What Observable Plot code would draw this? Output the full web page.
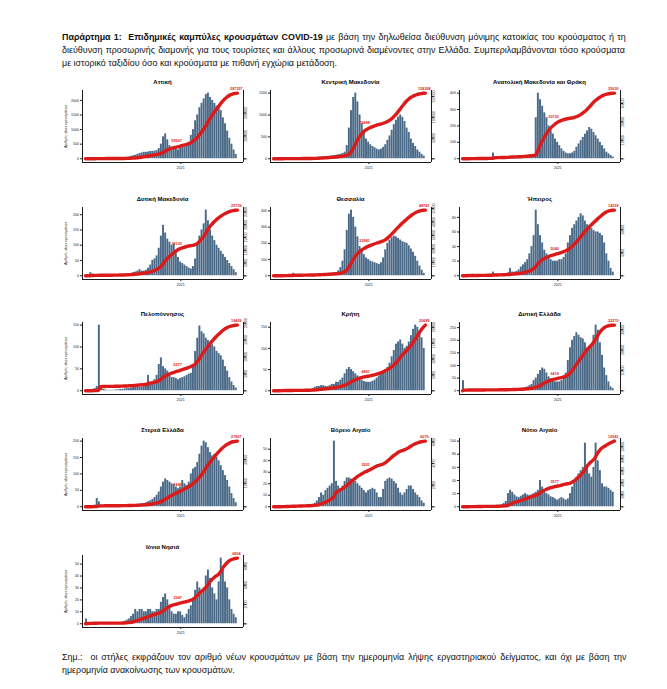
<!DOCTYPE html>
<html><head><meta charset="utf-8">
<script src="https://cdn.jsdelivr.net/npm/d3@7"></script>
<script src="https://cdn.jsdelivr.net/npm/@observablehq/plot@0.6"></script>
<style>
body{margin:0;background:#fff;}
#page{position:relative;width:667px;height:689px;overflow:hidden;background:#fff;font-family:"Liberation Sans",Arial,sans-serif;}
.txt{position:absolute;left:62px;width:563px;font-size:9.6px;line-height:13px;color:#111;}
.ln{display:block;white-space:nowrap;transform-origin:0 50%;}
.ln span.in{display:inline-block;white-space:nowrap;}
.ttl{position:absolute;font-family:"Liberation Sans",Arial,sans-serif;font-weight:bold;font-size:6px;line-height:8px;text-align:center;color:#000;white-space:nowrap;}
.ylab{position:absolute;font-family:"Liberation Sans",Arial,sans-serif;font-size:3.6px;color:#222;transform:rotate(-90deg);transform-origin:center center;white-space:nowrap;text-align:center;width:80px;height:5px;line-height:5px;}
.panel{position:absolute;}
.panel svg{position:absolute;left:0;top:0;overflow:visible;}
</style></head>
<body><div id="page">
<div class="txt" style="top:29.5px">
<div class="ln j"><span class="in"><b>Παράρτημα 1:&nbsp; Επιδημικές καμπύλες κρουσμάτων COVID-19</b> με βάση την δηλωθείσα διεύθυνση μόνιμης κατοικίας του κρούσματος ή τη</span></div>
<div class="ln j"><span class="in">διεύθυνση προσωρινής διαμονής για τους τουρίστες και άλλους προσωρινά διαμένοντες στην Ελλάδα. Συμπεριλαμβάνονται τόσο κρούσματα</span></div>
<div class="ln"><span class="in">με ιστορικό ταξιδίου όσο και κρούσματα με πιθανή εγχώρια μετάδοση.</span></div>
</div>
<div class="txt" style="top:649.5px">
<div class="ln j"><span class="in">Σημ.:&nbsp; οι στήλες εκφράζουν τον αριθμό νέων κρουσμάτων με βάση την ημερομηνία λήψης εργαστηριακού δείγματος, και όχι με βάση την</span></div>
<div class="ln"><span class="in">ημερομηνία ανακοίνωσης των κρουσμάτων.</span></div>
</div>
</div>
<script>
// Region names (panel titles)
const regions = ["Αττική","Κεντρική Μακεδονία","Ανατολική Μακεδονία και Θράκη","Δυτική Μακεδονία","Θεσσαλία","Ήπειρος","Πελοπόννησος","Κρήτη","Δυτική Ελλάδα","Στερεά Ελλάδα","Βόρειο Αιγαίο","Νότιο Αιγαίο","Ιόνια Νησιά"];

// Weekly new cases (daily level), weeks starting 2020-02-24
const attiki = [0,2,10,20,25,20,15,10,5,5, 3,3,5,5,8,10,15,20,30,50, 60,80,100,120,150,180,200,220,220,230, 250,250,260,280,350,500,750,850,650,450, 380,350,330,300,350,380,400,450,550,800, 1000,1300,1500,1750,1900,2050,2200,2250,2100,2000, 1900,1800,1750,1650,1400,1200,950,700,500,300, 150];
const kentrikiMakedonia = [0,2,5,8,10,8,6,5,4,3, 2,2,3,3,5,8,10,15,20,25, 30,35,40,45,50,55,60,65,70,80, 90,100,120,150,300,700,1100,1400,1500,1300, 1000,800,600,450,380,320,280,250,220,200, 220,260,320,420,520,650,780,880,950,1000, 950,850,700,600,450,350,280,200,150,100, 60];
const anatolikiMakedonia = [0,1,2,3,3,3,2,2,2,2, 2,3,5,8,35,10,5,4,4,5, 6,8,15,8,6,6,8,10,12,15, 18,20,22,25,250,400,360,320,280,250, 200,170,150,120,100,80,60,45,35,30, 30,35,45,70,90,110,130,150,170,190, 180,160,140,120,100,80,60,40,30,20, 10];
const dytikiMakedonia = [0,3,10,5,3,2,2,1,1,1, 1,1,2,2,2,3,3,4,5,5, 6,8,10,12,15,20,15,15,18,25, 35,50,55,65,90,130,165,140,120,110, 100,105,80,60,45,40,35,30,25,22, 30,55,100,130,150,170,215,180,150,130, 115,100,90,80,70,60,50,40,30,20, 10];
const thessalia = [0,1,2,3,4,5,5,5,8,15, 5,3,3,3,3,4,5,5,6,8, 8,10,10,12,12,14,15,16,18,20, 30,50,90,160,280,380,405,360,300,240, 180,150,130,110,100,90,85,80,75,70, 80,110,160,200,220,235,245,240,230,220, 210,205,200,185,165,145,120,90,60,35, 15];
const ipeiros = [0,1,2,2,2,1,1,1,1,1, 1,1,1,2,5,2,2,2,2,3, 3,4,10,5,5,6,8,12,15,18, 22,30,40,55,90,70,55,45,35,30, 25,22,20,20,20,22,22,25,30,45, 55,65,70,75,80,85,82,75,70,68, 65,62,60,60,58,55,45,30,20,10, 5];
const peloponnisos = [0,1,2,3,5,10,150,8,3,2, 1,1,1,1,2,2,3,3,4,5, 5,6,8,8,10,8,8,10,15,35, 15,20,25,35,60,75,55,50,45,40, 30,30,28,25,28,30,32,35,38,40, 55,90,120,148,135,130,120,115,110,105, 100,90,85,80,70,55,45,30,20,12, 6];
const kriti = [0,1,2,3,3,2,1,1,1,1, 1,1,1,1,1,2,2,3,5,8, 10,10,12,12,10,10,12,15,15,20, 20,25,30,40,50,55,50,45,40,35, 30,25,22,20,20,20,22,25,30,35, 40,45,50,55,65,80,95,110,115,120, 110,100,105,115,130,145,155,150,140,125, 100];
const dytikiEllada = [40,5,3,2,2,1,1,1,1,1, 1,1,1,1,1,1,2,2,2,3, 3,3,4,4,5,5,6,8,10,12, 15,20,25,40,50,65,80,90,85,70, 55,45,40,35,35,35,40,50,70,120, 170,200,215,230,220,210,205,190,170,165, 180,220,260,240,190,140,90,60,35,15, 8];
const stereaEllada = [0,1,2,3,5,25,15,3,2,1, 1,1,1,1,1,1,2,2,2,3, 3,4,5,5,6,8,8,10,12,15, 18,22,28,35,45,60,75,85,80,75, 70,68,60,55,60,80,70,65,75,100, 115,120,135,160,185,200,195,180,165,155, 160,150,140,125,110,95,80,60,40,25, 12];
const voreioAigaio = [0,0,0,1,1,1,1,1,1,1, 1,1,1,1,1,1,1,2,2,3, 5,8,12,10,14,16,18,20,57,22, 18,15,18,22,25,25,24,22,22,20, 18,16,14,12,14,15,16,15,12,8, 8,15,22,24,25,24,22,20,16,12, 10,12,15,18,18,15,12,10,8,5, 3];
const notioAigaio = [0,0,1,1,1,1,1,1,1,1, 0,0,0,1,1,1,1,2,3,5, 8,20,25,22,18,15,14,16,18,20, 18,17,18,20,22,25,40,30,22,20, 18,15,14,12,10,12,14,12,10,12, 20,30,40,45,50,55,60,97,60,50, 45,60,97,70,55,35,30,30,28,25, 22];
const ioniaNisia = [4,1,1,1,1,1,0,0,0,0, 0,0,0,0,0,0,1,1,2,3, 4,6,8,12,10,12,12,10,10,12, 12,10,10,12,12,18,22,25,20,15, 10,8,8,10,10,7,5,8,12,15, 20,28,35,30,25,30,40,45,38,30, 25,20,35,55,45,35,30,20,12,8, 5];

const series = [attiki,kentrikiMakedonia,anatolikiMakedonia,dytikiMakedonia,thessalia,ipeiros,peloponnisos,kriti,dytikiEllada,stereaEllada,voreioAigaio,notioAigaio,ioniaNisia];

// Left-axis tick labels per panel
const leftTicks = [[0,500,1000,1500,2000],[0,500,1000,1500],[0,100,200,300,400],[0,50,100,150,200],[0,100,200,300,400],[0,20,40,60,80],[0,50,100,150],[0,50,100,150],[0,50,100,150,200,250],[0,50,100,150,200],[0,10,20,30,40,50],[0,20,40,60,80,100],[0,10,20,30,40,50]];
const xTickLabels = ["2021"];
const yLabel = "Αριθμός νέων κρουσμάτων";

const BAR = "#4a6a88", RED = "#dc1a1a";
const DAY = 864e5;
const weeks = d3.range(series[0].length).map(k => new Date(Date.UTC(2020,1,24 + 7*k)));
const xDomain = [new Date(Date.UTC(2020,1,14)), new Date(Date.UTC(2021,6,25))];
const jan2021 = new Date(Date.UTC(2021,0,1));

const colX = [82, 270, 459];
const rowTop = [90, 207, 322, 438, 555];
const IW = 161, IH = 72;
const mL = 30, mR = 18, mT = 4, mB = 12;
const W = mL + IW + mR, H = mT + IH + mB;
const font = "'Liberation Sans', Arial, sans-serif";
const page = document.getElementById("page");

// Condense + justify the header/footer lines to the text block width
(function justify() {
  const target = 563;
  document.querySelectorAll(".txt").forEach(block => {
    const lines = [...block.querySelectorAll(".ln")];
    const first = lines[0].querySelector(".in");
    const s = Math.min(1, target / first.getBoundingClientRect().width * 1.0);
    const scale = Math.min(s, 0.93);
    lines.forEach(ln => {
      const inner = ln.querySelector(".in");
      ln.style.transform = `scaleX(${scale})`;
      ln.style.width = (target / scale) + "px";
      if (ln.classList.contains("j")) {
        const w = inner.getBoundingClientRect().width / scale;
        const spaces = (inner.textContent.match(/ /g) || []).length;
        const extra = (target / scale - w) / Math.max(1, spaces);
        inner.style.wordSpacing = extra + "px";
      }
    });
  });
})();

series.forEach((vals, i) => {
  const col = i % 3, row = Math.floor(i / 3);
  const ax = colX[col], top = rowTop[row];
  const ticks = leftTicks[i];
  const yTop = Math.max(d3.max(vals), ticks[ticks.length-1]) * 1.04;
  const yDom = [-yTop * 0.055, yTop];
  const bars = vals.map((v, k) => ({d0: weeks[k], d1: new Date(+weeks[k] + 7*DAY), v}));
  const cum = d3.cumsum(vals, v => v * 7);
  const total = cum[cum.length - 1];
  const rTop = total * 1.04;
  const cumRows = [{d: weeks[0], c: 0}, ...bars.map((b, k) => ({d: b.d1, c: cum[k]}))];

  const div = document.createElement("div");
  div.className = "panel";
  div.style.left = (ax - mL) + "px";
  div.style.top = (top - mT) + "px";
  div.style.width = W + "px";
  div.style.height = H + "px";

  const common = {
    width: W, height: H, marginLeft: mL, marginRight: mR, marginTop: mT, marginBottom: mB,
    style: {fontFamily: font, fontSize: "3.6px", background: "transparent", color: "#222", overflow: "visible"}
  };

  const A = Plot.plot({
    ...common,
    x: {type: "utc", domain: xDomain},
    y: {domain: yDom},
    marks: [
      Plot.rectY(bars, {x1: "d0", x2: "d1", y: "v", fill: BAR, insetRight: 0.2}),
      Plot.ruleX([xDomain[0]], {stroke: "#000", strokeWidth: 0.9}),
      Plot.ruleY([yDom[0]], {stroke: "#000", strokeWidth: 0.9}),
      Plot.axisY({ticks, tickSize: 2, tickPadding: 1.5, label: null, tickFormat: d3.format("d")}),
      Plot.axisX({ticks: [jan2021], tickFormat: () => xTickLabels[0], tickSize: 2, tickPadding: 1.5, label: null})
    ]
  });

  const B = Plot.plot({
    ...common,
    x: {type: "utc", domain: xDomain, axis: null},
    y: {domain: [-rTop * 0.055, rTop]},
    marks: [
      Plot.ruleX([xDomain[1]], {stroke: "#000", strokeWidth: 0.9}),
      Plot.lineY(cumRows, {x: "d", y: "c", stroke: RED, strokeWidth: 3.4, curve: "monotone-x"}),
      Plot.text([cumRows[46]], {x: "d", y: "c", text: d => String(Math.round(d.c)), fill: RED, fontSize: 3.8, fontWeight: "bold", dy: -4, dx: -2, textAnchor: "end"}),
      Plot.text([cumRows[cumRows.length-1]], {x: "d", y: "c", text: d => String(Math.round(d.c)), fill: RED, fontSize: 3.8, fontWeight: "bold", dy: -4, dx: -1, textAnchor: "middle"}),
      Plot.axisY({anchor: "right", ticks: 4, tickSize: 2, tickPadding: 1.5, tickRotate: -90, tickFormat: d3.format("d"), label: null})
    ]
  });

  div.appendChild(A);
  div.appendChild(B);
  page.appendChild(div);

  const t = document.createElement("div");
  t.className = "ttl";
  t.textContent = regions[i];
  t.style.left = (ax - 40) + "px";
  t.style.width = (IW + 80) + "px";
  t.style.top = (top - 12) + "px";
  page.appendChild(t);

  if (col === 0) {
    const yl = document.createElement("div");
    yl.className = "ylab";
    yl.textContent = yLabel;
    yl.style.left = (66 - 40) + "px";
    yl.style.top = (top + IH/2 - 2.5) + "px";
    page.appendChild(yl);
  }
});
</script>
</body></html>
